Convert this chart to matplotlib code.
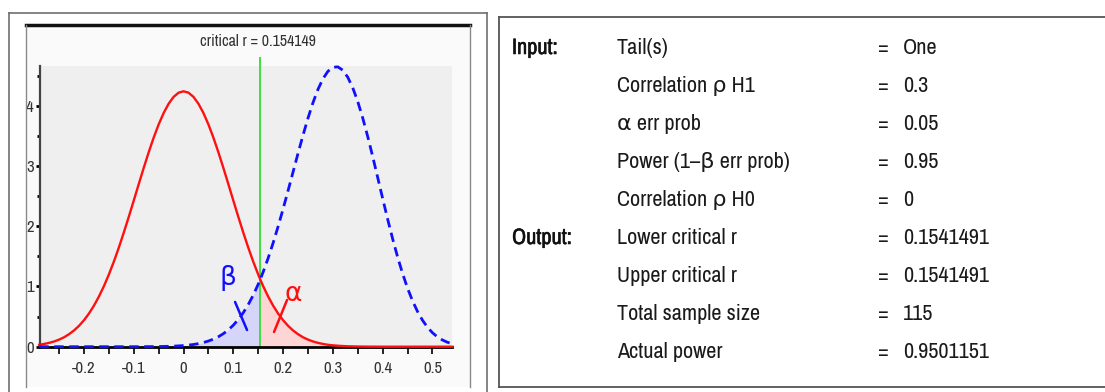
import numpy as np
import matplotlib
matplotlib.use("Agg")
import matplotlib.pyplot as plt
from matplotlib import font_manager
from matplotlib import patheffects
from matplotlib.patches import Rectangle
from matplotlib.lines import Line2D

# correlation power analysis: H0 (rho = 0) vs H1 (rho = 0.3), N = 115
crit_r = 0.1541491
title_text = "critical r = 0.154149"

r = [-0.29, -0.28, -0.27, -0.26, -0.25, -0.24, -0.23, -0.22, -0.21, -0.20,
     -0.19, -0.18, -0.17, -0.16, -0.15, -0.14, -0.13, -0.12, -0.11, -0.10,
     -0.09, -0.08, -0.07, -0.06, -0.05, -0.04, -0.03, -0.02, -0.01, 0.00,
     0.01, 0.02, 0.03, 0.04, 0.05, 0.06, 0.07, 0.08, 0.09, 0.10,
     0.11, 0.12, 0.13, 0.14, 0.15, 0.1541491, 0.16, 0.17, 0.18, 0.19,
     0.20, 0.21, 0.22, 0.23, 0.24, 0.25, 0.26, 0.27, 0.28, 0.29,
     0.30, 0.31, 0.32, 0.33, 0.34, 0.35, 0.36, 0.37, 0.38, 0.39,
     0.40, 0.41, 0.42, 0.43, 0.44, 0.45, 0.46, 0.47, 0.48, 0.49,
     0.50, 0.51, 0.52, 0.53, 0.54]

# density of r under H0 (red, solid)
dens_h0 = [0.032, 0.046, 0.064, 0.087, 0.118, 0.157, 0.208, 0.270, 0.347, 0.440,
           0.551, 0.682, 0.833, 1.005, 1.199, 1.413, 1.646, 1.896, 2.157, 2.427,
           2.700, 2.969, 3.228, 3.471, 3.690, 3.879, 4.033, 4.147, 4.217, 4.240,
           4.217, 4.147, 4.033, 3.879, 3.690, 3.471, 3.228, 2.969, 2.700, 2.427,
           2.157, 1.896, 1.646, 1.413, 1.199, 1.116, 1.005, 0.833, 0.682, 0.551,
           0.440, 0.347, 0.270, 0.208, 0.157, 0.118, 0.087, 0.064, 0.046, 0.032,
           0.023, 0.016, 0.011, 0.007, 0.005, 0.003, 0.002, 0.001, 0.001, 0.000,
           0.000, 0.000, 0.000, 0.000, 0.000, 0.000, 0.000, 0.000, 0.000, 0.000,
           0.000, 0.000, 0.000, 0.000, 0.000]

# density of r under H1 (blue, dashed)
dens_h1 = [0.000, 0.000, 0.000, 0.000, 0.000, 0.000, 0.000, 0.000, 0.000, 0.000,
           0.000, 0.000, 0.000, 0.000, 0.000, 0.000, 0.000, 0.000, 0.000, 0.000,
           0.0005, 0.0008, 0.0013, 0.0019, 0.0029, 0.0043, 0.0063, 0.0092, 0.0133, 0.0189,
           0.0266, 0.0371, 0.0511, 0.0697, 0.0940, 0.1253, 0.1655, 0.2159, 0.2792, 0.3570,
           0.4514, 0.5646, 0.6988, 0.8557, 1.0361, 1.118, 1.241, 1.470, 1.723, 1.996,
           2.286, 2.590, 2.899, 3.209, 3.509, 3.793, 4.049, 4.270, 4.446, 4.571,
           4.639, 4.646, 4.590, 4.473, 4.298, 4.071, 3.798, 3.491, 3.159, 2.812,
           2.463, 2.121, 1.795, 1.492, 1.217, 0.973, 0.764, 0.586, 0.441, 0.324,
           0.233, 0.163, 0.112, 0.074, 0.048]

x_ticks = [-0.2, -0.1, 0.0, 0.1, 0.2, 0.3, 0.4, 0.5]
x_tick_labels = ["-0.2", "-0.1", "0", "0.1", "0.2", "0.3", "0.4", "0.5"]
x_minor = [-0.25, -0.15, -0.05, 0.05, 0.15, 0.25, 0.35, 0.45]
y_ticks = [0, 1, 2, 3, 4]
y_minor = [0.5, 1.5, 2.5, 3.5, 4.5]

section_labels = ["Input:", "", "", "", "", "Output:", "", "", ""]
param_names = ["Tail(s)", "Correlation ρ H1", "α err prob", "Power (1\u2013β err prob)",
               "Correlation ρ H0", "Lower critical r", "Upper critical r",
               "Total sample size", "Actual power"]
param_values = ["One", "0.3", "0.05", "0.95", "0", "0.1541491", "0.1541491",
                "115", "0.9501151"]


# look for a narrow / condensed face among the installed fonts
def narrow_font():
    fonts = font_manager.fontManager.ttflist
    for f in fonts:
        nm = f.name.lower()
        if ("narrow" in nm or "condensed" in nm) and "mono" not in nm:
            return f.name, "normal"
    for f in fonts:
        st = f.stretch
        if isinstance(st, str) and st in ("condensed", "semi-condensed", "extra-condensed"):
            return f.name, st
        if isinstance(st, int) and st < 500 and "mono" not in f.name.lower():
            return f.name, st
    return None, None


fam, stretch = narrow_font()
if fam:
    plt.rcParams["font.family"] = [fam, "DejaVu Sans"]
    plt.rcParams["font.stretch"] = stretch
    k = 1.0
else:
    plt.rcParams["font.family"] = ["Liberation Sans", "DejaVu Sans"]
    k = 0.9

W, H = 1105, 392
fig = plt.figure(figsize=(W / 100, H / 100), dpi=100)
fig.patch.set_facecolor("white")


def fx(px):
    return px / W


def fy(py):
    return 1 - py / H


def fig_line(x0, y0, x1, y1, **kw):
    fig.add_artist(Line2D([fx(x0), fx(x1)], [fy(y0), fy(y1)],
                          transform=fig.transFigure, **kw))


# panel frames
fig.add_artist(Rectangle((fx(26), fy(387)), fx(470) - fx(26), fy(25) - fy(387),
                         transform=fig.transFigure, facecolor="#fafafa",
                         edgecolor="none", zorder=0))
fig_line(9, 13, 487, 13, color="#707070", lw=1.2)
fig_line(9, 13, 9, 395, color="#707070", lw=1.2)
fig_line(487, 13, 487, 395, color="#707070", lw=1.2)
fig_line(26, 25, 470, 25, color="#111111", lw=2.5)
fig_line(26, 25, 26, 387, color="#8a8a8a", lw=1)
fig_line(470, 25, 470, 387, color="#8a8a8a", lw=1)

fig_line(499, 16.5, 1110, 16.5, color="#555555", lw=1.3)
fig_line(499, 16.5, 499, 387, color="#555555", lw=1.3)
fig_line(499, 387, 1110, 387, color="#555555", lw=1.3)

# distribution plot
ax = fig.add_axes([fx(40), fy(346.7), fx(452.3) - fx(40), fy(66) - fy(346.7)])
ax.set_facecolor("#efefef")
x = np.array(r)
h0 = np.array(dens_h0)
h1 = np.array(dens_h1)

ax.fill_between(x, 0, h1, where=x <= crit_r, color="#d5d5fa", lw=0, zorder=1)
ax.fill_between(x, 0, h0, where=x >= crit_r, color="#fdd5d5", lw=0, zorder=1)
ax.axvline(crit_r, ymin=0, ymax=(346.7 - 58) / (346.7 - 66), color="#3ee03e",
           lw=1.4, clip_on=False, zorder=2)
ax.plot(x, h0, color="#ff1010", lw=1.7, clip_on=False, zorder=3)
ax.plot(x, h1, color="#1010ff", lw=2.0, dashes=(3.4, 2.0), clip_on=False, zorder=3)

ax.set_xlim(-0.2884, 0.540)
ax.set_ylim(0, 4.66)

for s in ["top", "right"]:
    ax.spines[s].set_visible(False)
ax.spines["bottom"].set_color("black")
ax.spines["bottom"].set_linewidth(2.0)
ax.spines["left"].set_color("#444444")
ax.spines["left"].set_linewidth(1.6)
ax.spines["bottom"].set_zorder(2.5)

ax.set_xticks(x_ticks)
ax.set_xticklabels(x_tick_labels)
ax.set_xticks(x_minor, minor=True)
ax.set_yticks(y_ticks)
ax.set_yticklabels([str(v) for v in y_ticks])
ax.set_yticks(y_minor, minor=True)
ax.tick_params(axis="x", which="both", direction="out", length=5, width=1.2,
               color="black", labelsize=12 * k, labelcolor="#333333", pad=5)
ax.tick_params(axis="y", which="major", direction="out", length=3, width=2,
               color="black", labelsize=12 * k, labelcolor="#333333", pad=1.5)
ax.tick_params(axis="y", which="minor", direction="out", length=2, width=2,
               color="black")

# beta / alpha markers
ax.text(0.0894, 1.14, "β", color="#1010ff", fontsize=19, ha="center", va="center")
ax.text(0.220, 0.89, "α", color="#ff1010", fontsize=19, ha="center", va="center")
ax.plot([0.1035, 0.1276], [0.743, 0.277], color="#1010ff", lw=1.8,
        solid_capstyle="round", zorder=4)
ax.plot([0.2080, 0.1818], [0.776, 0.244], color="#ff1010", lw=1.8,
        solid_capstyle="round", zorder=4)

fig.text(fx(258), fy(42), title_text, ha="center", va="center",
         fontsize=11.5 * k, color="#333333")

# parameter table
heavy = [patheffects.withStroke(linewidth=0.4, foreground="#111111")]
row_y = 48
row_step = 38
for i in range(len(param_names)):
    yy = fy(row_y + i * row_step)
    if section_labels[i]:
        fig.text(fx(512), yy, section_labels[i], ha="left", va="center",
                 fontsize=16 * k, fontweight="bold", color="#111111",
                 path_effects=heavy)
    fig.text(fx(617), yy, param_names[i], ha="left", va="center",
             fontsize=16 * k, color="#1a1a1a")
    fig.text(fx(883), yy, "=", ha="center", va="center", fontsize=16 * k,
             color="#1a1a1a")
    fig.text(fx(903), yy, param_values[i], ha="left", va="center",
             fontsize=16 * k, color="#1a1a1a")

fig.savefig("out.png", dpi=100)
